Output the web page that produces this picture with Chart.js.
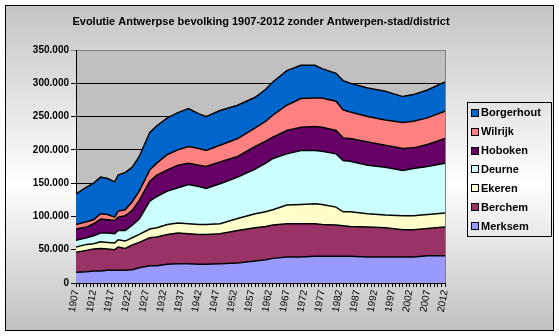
<!DOCTYPE html>
<html><head><meta charset="utf-8">
<script src="https://cdn.jsdelivr.net/npm/chart.js@4.4.0/dist/chart.umd.min.js"></script>
<style>html,body{margin:0;padding:0;background:#fff;}canvas{display:block;}</style>
</head><body>
<canvas id="c" width="559" height="336"></canvas>
<script>
const chartTitle = 'Evolutie Antwerpse bevolking 1907-2012 zonder Antwerpen-stad/district';
const years =      [1907,1910,1912,1914,1916,1918,1919,1921,1923,1925,1928,1930,1933,1936,1939,1942,1944,1948,1953,1958,1961,1963,1967,1971,1975,1977,1981,1983,1985,1990,1995,2000,2003,2007,2012];
const merksem =    [16000,17000,18000,18000,19000,19000,19000,19000,20000,23000,26000,26000,28000,29000,29000,28000,28000,29000,30000,33000,35000,37000,39000,39000,40000,40000,40000,40000,40000,39000,39000,39000,39000,41000,41000];
const berchem =    [30000,32000,33000,34000,32000,31000,35000,33000,37000,38000,42000,43000,45000,46000,45000,45000,45000,45000,49000,50000,50000,50000,50000,50000,49000,48000,47000,46000,45000,45000,44000,41000,41000,41000,43000];
const ekeren =     [8000,9000,8000,10000,10000,10000,11000,11000,11000,12000,13000,14000,15000,15000,15000,15000,15000,15000,18000,21000,22000,23000,28000,29000,30000,30000,27000,21000,22000,20000,19000,21000,21000,21000,21000];
const deurne =     [10000,10000,12000,13000,14000,14000,14000,16000,19000,23000,42000,47000,50000,53000,59000,57000,54000,60000,62000,67000,73000,77000,77000,81000,80000,80000,80000,77000,76000,73000,72000,68000,71000,72000,75000];
const hoboken =    [17000,16000,18000,21000,20000,20000,20000,22000,22000,28000,30000,32000,32000,34000,32000,32000,33000,33000,31000,34000,33000,32000,35000,35000,36000,36000,35000,34000,34000,35000,33000,33000,31000,33000,37000];
const wilrijk =    [7000,8000,6000,8000,8000,5000,9000,9000,13000,14000,17000,18000,23000,23000,25000,25000,24000,25000,27000,28000,30000,33000,38000,43000,43000,44000,44000,42000,40000,38000,38000,39000,40000,40000,41000];
const borgerhout = [46000,52000,55000,55000,54000,53000,54000,56000,52000,52000,56000,56000,55000,56000,57000,52000,51000,52000,50000,46000,48000,50000,52000,50000,49000,44000,42000,44000,43000,43000,43000,39000,40000,42000,44000];

const FONT = '"Liberation Sans", Arial, Helvetica, sans-serif';
const series = [
  {label:'Merksem', data:merksem, color:'#9999FF'},
  {label:'Berchem', data:berchem, color:'#993366'},
  {label:'Ekeren', data:ekeren, color:'#FFFFCC'},
  {label:'Deurne', data:deurne, color:'#CCFFFF'},
  {label:'Hoboken', data:hoboken, color:'#660066'},
  {label:'Wilrijk', data:wilrijk, color:'#FF8080'},
  {label:'Borgerhout', data:borgerhout, color:'#0066CC'}
];

const decor = {
  id:'decor',
  beforeDraw(chart){
    const ctx = chart.ctx, a = chart.chartArea;
    ctx.save();
    ctx.fillStyle = '#fff'; ctx.fillRect(0,0,chart.width,chart.height);
    const g = ctx.createLinearGradient(0,5,0,330);
    g.addColorStop(0,'#c4c4c4'); g.addColorStop(0.55,'#ffffff'); g.addColorStop(1,'#c0c0c0');
    ctx.fillStyle = g; ctx.fillRect(5,5,548,325);
    ctx.strokeStyle = '#000'; ctx.lineWidth = 1; ctx.strokeRect(5.5,5.5,548,325);
    ctx.fillStyle = '#c0c0c0'; ctx.fillRect(a.left,a.top,a.right-a.left,a.bottom-a.top);
    ctx.fillStyle = '#000'; ctx.font = 'bold 11px ' + FONT;
    ctx.textAlign = 'center'; ctx.textBaseline = 'middle';
    ctx.fillText(chartTitle, 261, 22);
    ctx.restore();
  },
  beforeDatasetsDraw(chart){
    const ctx = chart.ctx, a = chart.chartArea;
    ctx.save();
    ctx.strokeStyle = '#808080'; ctx.lineWidth = 1;
    ctx.beginPath(); ctx.moveTo(Math.round(a.right)+0.5, a.top); ctx.lineTo(Math.round(a.right)+0.5, a.bottom); ctx.stroke();
    ctx.restore();
  },
  afterDraw(chart){
    const ctx = chart.ctx;
    ctx.save();
    ctx.strokeStyle = '#000'; ctx.lineWidth = 1;
    ctx.strokeRect(467.5,102.5,84,134);
    ctx.font = 'bold 11px ' + FONT; ctx.textAlign = 'left'; ctx.textBaseline = 'middle';
    const ds = chart.data.datasets.slice().reverse();
    ds.forEach((d,i)=>{
      const y = 112.7 + i*18.9;
      ctx.fillStyle = d.backgroundColor;
      ctx.fillRect(471.5, Math.round(y)-3.5, 7, 7);
      ctx.strokeRect(471.5, Math.round(y)-3.5, 7, 7);
      ctx.fillStyle = '#000';
      ctx.fillText(d.label, 481, y+0.5);
    });
    ctx.restore();
  }
};

new Chart(document.getElementById('c'), {
  type:'line',
  data:{
    datasets: series.map((s,i)=>({
      label:s.label,
      data: years.map((yr,j)=>({x:yr, y:s.data[j]})),
      backgroundColor:s.color,
      borderColor:'#000',
      borderWidth:1.5,
      fill: i===0 ? 'origin' : '-1',
      pointRadius:0,
      tension:0
    }))
  },
  options:{
    responsive:false, animation:false, devicePixelRatio:1,
    layout:{padding:{left:0, top:50, right:114, bottom:0}},
    plugins:{legend:{display:false}, title:{display:false}, tooltip:{enabled:false}},
    scales:{
      x:{type:'linear', min:1907, max:2012, offset:false,
        afterFit(s){ s.height = 53; },
        grid:{drawOnChartArea:false, drawTicks:true, tickLength:4, color:'#000'},
        border:{display:true, color:'#000', width:1},
        ticks:{stepSize:1, autoSkip:false, maxTicksLimit:200, minRotation:80, maxRotation:80, padding:2,
          color:'#000', font:{family:FONT, size:10},
          callback:(v)=> ((v-1907)%5===0 ? String(v) : '')}
      },
      y:{stacked:true, min:0, max:350000,
        afterFit(s){ s.width = 76; },
        grid:{color:(c)=> (c.tick && c.tick.value===350000 ? '#808080' : '#000'), tickLength:5, lineWidth:1},
        border:{color:'#000', width:1},
        ticks:{stepSize:50000, padding:2, color:'#000', font:{family:FONT, size:10, weight:'bold'},
          callback:(v)=> String(v).replace(/\B(?=(\d{3})+(?!\d))/g,'.')}
      }
    }
  },
  plugins:[decor]
});
</script>
</body></html>
